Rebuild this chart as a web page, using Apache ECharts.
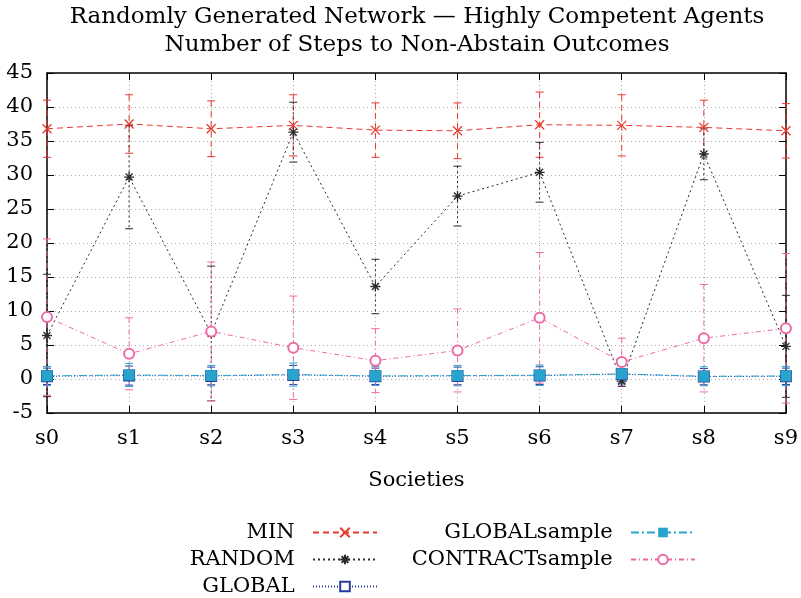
<!DOCTYPE html>
<html><head><meta charset="utf-8">
<script src="https://cdn.jsdelivr.net/npm/echarts@6/dist/echarts.min.js"></script>
<style>html,body{margin:0;padding:0;background:#fff}#c{width:801px;height:598px}</style>
</head><body><div id="c"></div>
<script>
const categories = ['s0','s1','s2','s3','s4','s5','s6','s7','s8','s9'];
const yTicks = {min:-5, max:45, interval:5};

const minVals = [36.8, 37.5, 36.8, 37.3, 36.6, 36.5, 37.4, 37.3, 37.0, 36.5];
const minErr  = [4.2, 4.3, 4.1, 4.5, 4.0, 4.1, 4.8, 4.5, 4.0, 4.0];

const randomVals = [6.4, 29.7, 6.7, 36.3, 13.6, 26.9, 30.4, -0.3, 33.1, 4.8];
const randomErr  = [9.0, 7.6, 9.9, 4.4, 4.0, 4.4, 4.4, 0.8, 3.8, 7.5];

const globalVals = [0.4, 0.5, 0.45, 0.6, 0.4, 0.45, 0.5, 0.7, 0.35, 0.4];
const globalErr  = [1.2, 1.4, 1.3, 1.4, 1.2, 1.3, 1.3, 1.3, 1.2, 1.2];

const globalSampleVals = [0.45, 0.6, 0.5, 0.65, 0.45, 0.5, 0.55, 0.75, 0.4, 0.45];
const globalSampleErr  = [1.4, 1.7, 1.5, 1.7, 1.4, 1.5, 1.5, 1.5, 1.4, 1.4];

const contractVals = [9.1, 3.7, 7.0, 4.6, 2.7, 4.2, 9.0, 2.5, 6.0, 7.45];
const contractErr  = [11.5, 5.3, 10.2, 7.6, 4.7, 6.1, 9.6, 3.5, 7.9, 11.0];

const FONT = 'DejaVu Serif';
const C_MIN = '#e8392f', C_RAND = '#2a2a2a', C_GLOB = '#2b3a9e', C_GS = '#27a3cc', C_CON = '#ee6aa7';
const D_MIN = [6,4], D_RAND = [2,3], D_GLOB = [1,2], D_GS = [8,3,2,3], D_CON = [5,3,1,3];

function errSeries(name, vals, errs, color, dash) {
  return {
    type:'custom', name: name + ' err', silent:true, z:1,
    data: vals.map((v,i)=>[i, v, errs[i]]),
    encode:{x:0, y:1},
    renderItem: function(params, api){
      const i = api.value(0), v = api.value(1), e = api.value(2);
      const t = api.coord([i, v+e]), b = api.coord([i, v-e]);
      const w = 4;
      return {type:'group', children:[
        {type:'line', shape:{x1:t[0],y1:t[1],x2:b[0],y2:b[1]}, style:{stroke:color, lineWidth:1, lineDash:dash}},
        {type:'line', shape:{x1:t[0]-w,y1:t[1],x2:t[0]+w,y2:t[1]}, style:{stroke:color, lineWidth:1}},
        {type:'line', shape:{x1:b[0]-w,y1:b[1],x2:b[0]+w,y2:b[1]}, style:{stroke:color, lineWidth:1}}
      ]};
    }
  };
}
function lineSeries(name, vals, color, dash, symbol, size, itemStyle) {
  return {type:'line', name:name, data:vals, z:2, symbol:symbol, symbolSize:size, showAllSymbol:true,
    lineStyle:{color:color, width:1, type:dash}, itemStyle:itemStyle, emphasis:{disabled:true}};
}
const X_PATH = 'path://M0,0L10,10M10,0L0,10';
const STAR_PATH = 'path://M5,0L5,10M0,5L10,5M1.5,1.5L8.5,8.5M8.5,1.5L1.5,8.5';

const axisTxt = {fontFamily:FONT, fontSize:21, color:'#000'};
const legTxt = {fontFamily:FONT, fontSize:21, color:'#000', lineHeight:21};
const option = {
  animation:false,
  backgroundColor:'#fff',
  title:{text:'Randomly Generated Network \u2014 Highly Competent Agents\nNumber of Steps to Non-Abstain Outcomes',
    left:417, textAlign:'center', top:3, padding:0,
    textStyle:{fontFamily:FONT, fontSize:23, fontWeight:'normal', color:'#000', lineHeight:28}},
  grid:{left:47, right:14, top:73, bottom:185, containLabel:false},
  legend:[
    {data:['MIN','RANDOM','GLOBAL'], orient:'vertical', align:'right', right:423, top:522, height:80,
     itemWidth:64, itemHeight:12, itemGap:6, selectedMode:false, formatter:n=>n+'  ', padding:0,
     textStyle:legTxt},
    {data:['GLOBALsample','CONTRACTsample'], orient:'vertical', align:'right', right:105, top:522, height:80,
     itemWidth:64, itemHeight:12, itemGap:6, selectedMode:false, formatter:n=>n+'  ', padding:0,
     textStyle:legTxt}
  ],
  xAxis:[
    {type:'category', data:categories, boundaryGap:false, position:'bottom',
     axisLine:{onZero:false, lineStyle:{color:'#000', width:1.5}},
     axisTick:{inside:true, length:7, lineStyle:{color:'#000'}},
     axisLabel:Object.assign({margin:15}, axisTxt),
     splitLine:{show:true, interval:0, lineStyle:{color:'#aaa', type:[1,3]}},
     name:'Societies', nameLocation:'middle', nameGap:57, nameTextStyle:axisTxt},
    {type:'category', data:categories, boundaryGap:false, position:'top',
     axisLine:{onZero:false, lineStyle:{color:'#000', width:1.5}},
     axisTick:{inside:true, length:7, lineStyle:{color:'#000'}},
     axisLabel:{show:false}, splitLine:{show:false}}
  ],
  yAxis:[
    {type:'value', min:yTicks.min, max:yTicks.max, interval:yTicks.interval, position:'left',
     axisLine:{show:true, onZero:false, lineStyle:{color:'#000', width:1.5}},
     axisTick:{show:true, inside:true, length:7, lineStyle:{color:'#000'}},
     axisLabel:Object.assign({margin:14}, axisTxt),
     splitLine:{show:true, lineStyle:{color:'#aaa', type:[1,3]}}},
    {type:'value', min:yTicks.min, max:yTicks.max, interval:yTicks.interval, position:'right',
     axisLine:{show:true, onZero:false, lineStyle:{color:'#000', width:1.5}},
     axisTick:{show:true, inside:true, length:7, lineStyle:{color:'#000'}},
     axisLabel:{show:false}, splitLine:{show:false}}
  ],
  series:[
    errSeries('MIN', minVals, minErr, C_MIN, D_MIN),
    errSeries('RANDOM', randomVals, randomErr, C_RAND, D_RAND),
    errSeries('GLOBAL', globalVals, globalErr, C_GLOB, D_GLOB),
    errSeries('GLOBALsample', globalSampleVals, globalSampleErr, C_GS, D_GS),
    errSeries('CONTRACTsample', contractVals, contractErr, C_CON, D_CON),
    lineSeries('MIN', minVals, C_MIN, D_MIN, X_PATH, 9, {color:C_MIN, borderColor:C_MIN, borderWidth:1.3}),
    lineSeries('RANDOM', randomVals, C_RAND, D_RAND, STAR_PATH, 10, {color:C_RAND, borderColor:C_RAND, borderWidth:1.3}),
    lineSeries('GLOBAL', globalVals, C_GLOB, D_GLOB, 'emptyRect', 10, {color:C_GLOB, borderColor:C_GLOB, borderWidth:1.2}),
    lineSeries('GLOBALsample', globalSampleVals, C_GS, D_GS, 'rect', 11, {color:C_GS, borderColor:C_GS, borderWidth:0}),
    lineSeries('CONTRACTsample', contractVals, C_CON, D_CON, 'emptyCircle', 10, {color:C_CON, borderColor:C_CON, borderWidth:1.2})
  ]
};
const chart = echarts.init(document.getElementById('c'));
chart.setOption(option);
</script>
</body></html>
